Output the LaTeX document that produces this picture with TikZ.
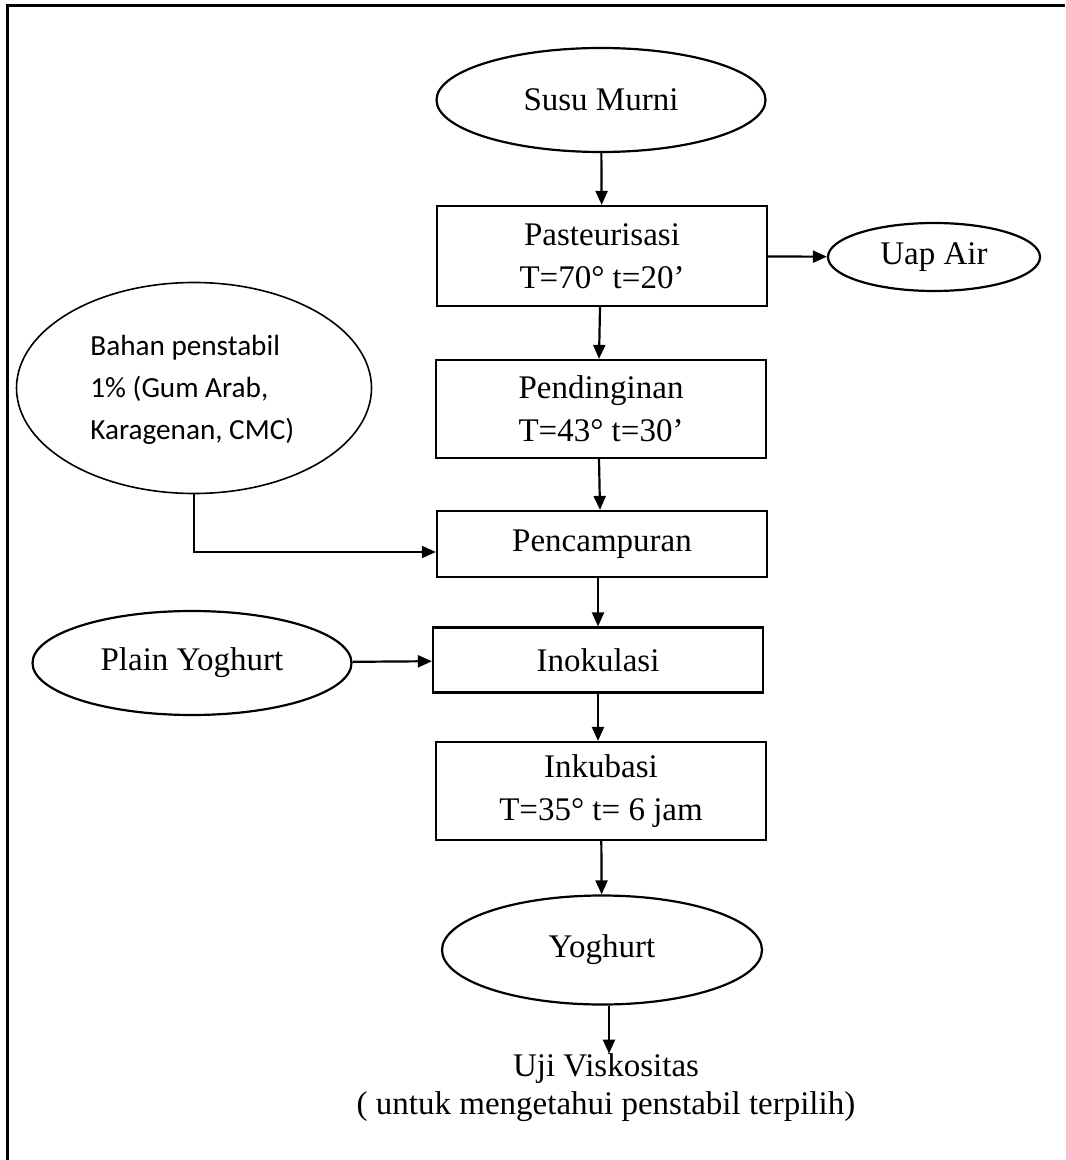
\documentclass[tikz,border=0pt]{standalone}
\usepackage{fontspec}
\setmainfont{Liberation Serif}
\newfontfamily\calibrifont{Carlito}
\usetikzlibrary{arrows.meta,shapes.geometric}

\tikzset{
  flowbox/.style={draw, line width=1.1pt, minimum width=165pt, inner sep=0pt, align=center,
    font=\fontsize{16.5}{21.5}\selectfont},
  flowell/.style={draw, ellipse, line width=1.1pt, inner sep=0pt, align=center,
    font=\fontsize{16.5}{20}\selectfont},
  flowline/.style={line width=1.1pt, ->}
}

\begin{document}
\begin{tikzpicture}[line cap=butt, line join=miter, >={Triangle[length=7pt,width=6pt]}, x=0.5pt, y=-0.5pt]
  \useasboundingbox (0,0) rectangle (1065,1160);
  % frame, only top and left edges show
  \draw[line width=1.5pt] (7,1160) -- (7,6) -- (1065,6);

  % main column
  \node[flowell, minimum width=164.5pt, minimum height=52pt] (susu) at (601,100) {Susu Murni};
  \node[flowbox, minimum height=50pt] (pasteur) at (602,256) {Pasteurisasi\\T=70° t=20’};
  \node[flowbox, minimum height=49pt] (dingin) at (601,409) {Pendinginan\\T=43° t=30’};
  \node[flowbox, minimum height=33pt] (campur) at (602,544) {Pencampuran};
  \node[flowbox, minimum height=32.5pt] (inokulasi) at (598,660) {Inokulasi};
  \node[flowbox, minimum height=49pt] (inkubasi) at (601,791) {Inkubasi\\T=35° t= 6 jam};
  \node[flowell, minimum width=160pt, minimum height=54.5pt] (yoghurt) at (602,950) {Yoghurt};
  \node[align=center, inner sep=0pt, font=\fontsize{16.5}{19}\selectfont] (uji) at (606,1088)
    {Uji Viskositas\\( untuk mengetahui penstabil terpilih)};

  % side inputs and outputs
  \node[flowell, minimum width=106pt, minimum height=34pt] (uap) at (934,257) {Uap Air};
  \node[draw, ellipse, line width=0.8pt, minimum width=177.5pt, minimum height=105.5pt] (bahan) at (194,388) {};
  \node[anchor=west, align=left, inner sep=0pt, font=\calibrifont\fontsize{14.6}{21}\selectfont] (bahantxt) at (90,390)
    {Bahan penstabil\\1\% (Gum Arab,\\Karagenan, CMC)};
  \node[flowell, minimum width=159.5pt, minimum height=52pt] (plain) at (192,663) {Plain Yoghurt};

  % connectors
  \draw[flowline] (susu) -- (pasteur);
  \draw[flowline] (pasteur) -- (uap);
  \draw[flowline] ([xshift=-1pt]pasteur.south) -- ([xshift=-1pt]dingin.north);
  \draw[flowline] ([xshift=-1pt]dingin.south) -- ([xshift=-1pt]campur.north);
  \draw[flowline, line width=0.8pt] (bahan.south) |- ([yshift=-4pt]campur.west);
  \draw[flowline] ([xshift=-2pt]campur.south) -- ([xshift=0pt]inokulasi.north);
  \draw[flowline] (plain) -- (inokulasi);
  \draw[flowline] (inokulasi.south) -- ([xshift=-1.5pt]inkubasi.north);
  \draw[flowline] (inkubasi) -- (yoghurt);
  \draw[flowline] ([xshift=3.5pt]yoghurt.south) -- ([xshift=1.5pt]uji.north);
\end{tikzpicture}
\end{document}
